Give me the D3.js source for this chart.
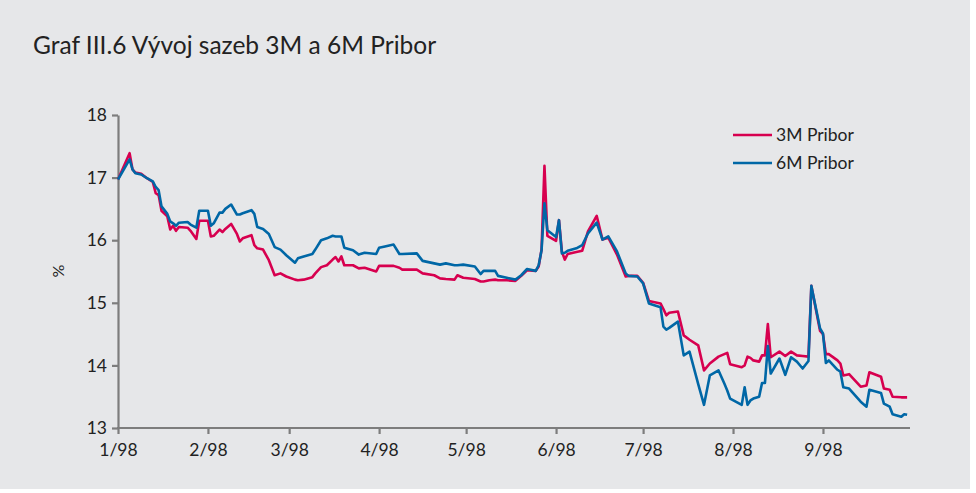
<!DOCTYPE html>
<html>
<head>
<meta charset="utf-8">
<script src="https://cdn.jsdelivr.net/npm/d3@7"></script>
<style>
  body { margin: 0; background: #fff; }
  svg text { font-family: Lato, "Open Sans", sans-serif; fill: #222; }
</style>
</head>
<body>
<svg id="canvas"></svg>
<script>
let dates = [
  '1998-01-01','1998-01-05','1998-01-06','1998-01-07','1998-01-09','1998-01-11','1998-01-13','1998-01-14','1998-01-15','1998-01-16',
  '1998-01-18','1998-01-19','1998-01-20','1998-01-21','1998-01-22','1998-01-25','1998-01-26','1998-01-28','1998-01-29','1998-02-01',
  '1998-02-02','1998-02-03','1998-02-05','1998-02-06','1998-02-07','1998-02-09','1998-02-11','1998-02-12','1998-02-13','1998-02-16',
  '1998-02-17','1998-02-18','1998-02-20','1998-02-22','1998-02-24','1998-02-26','1998-02-28','1998-03-03','1998-03-04','1998-03-06',
  '1998-03-09','1998-03-10','1998-03-12','1998-03-14','1998-03-16','1998-03-17','1998-03-18','1998-03-19','1998-03-20','1998-03-23',
  '1998-03-25','1998-03-27','1998-03-31','1998-04-01','1998-04-03','1998-04-06','1998-04-08','1998-04-09','1998-04-14','1998-04-16',
  '1998-04-20','1998-04-22','1998-04-24','1998-04-27','1998-04-28','1998-04-30','1998-05-04','1998-05-06','1998-05-07','1998-05-09',
  '1998-05-11','1998-05-12','1998-05-15','1998-05-18','1998-05-20','1998-05-22','1998-05-25','1998-05-26','1998-05-27','1998-05-28',
  '1998-05-29','1998-06-01','1998-06-02','1998-06-03','1998-06-04','1998-06-05','1998-06-08','1998-06-10','1998-06-12','1998-06-15',
  '1998-06-17','1998-06-19','1998-06-22','1998-06-25','1998-06-26','1998-06-29','1998-07-01','1998-07-03','1998-07-07','1998-07-08',
  '1998-07-09','1998-07-10','1998-07-13','1998-07-15','1998-07-17','1998-07-20','1998-07-22','1998-07-24','1998-07-27','1998-07-29',
  '1998-07-30','1998-07-31','1998-08-04','1998-08-05','1998-08-06','1998-08-07','1998-08-08','1998-08-10','1998-08-11','1998-08-12',
  '1998-08-13','1998-08-14','1998-08-17','1998-08-19','1998-08-21','1998-08-23','1998-08-25','1998-08-27','1998-08-28','1998-08-31',
  '1998-09-01','1998-09-02','1998-09-03','1998-09-06','1998-09-07','1998-09-08','1998-09-10','1998-09-14','1998-09-16','1998-09-17',
  '1998-09-21','1998-09-22','1998-09-24','1998-09-25','1998-09-28','1998-09-29','1998-09-30'
]

let pribor3M = [
  16.97,17.39,17.13,17.08,17.06,16.99,16.93,16.75,16.72,16.47,
  16.38,16.17,16.23,16.15,16.21,16.20,16.15,16.02,16.31,16.31,
  16.06,16.07,16.17,16.13,16.18,16.26,16.10,15.98,16.03,16.08,
  15.92,15.87,15.85,15.68,15.44,15.47,15.42,15.37,15.36,15.37,
  15.41,15.47,15.57,15.60,15.69,15.73,15.66,15.74,15.60,15.60,
  15.55,15.56,15.50,15.59,15.59,15.59,15.56,15.53,15.53,15.47,
  15.44,15.39,15.38,15.37,15.44,15.40,15.38,15.34,15.34,15.36,
  15.37,15.36,15.36,15.35,15.43,15.52,15.51,15.58,15.85,17.19,
  16.07,15.99,16.32,15.82,15.69,15.78,15.81,15.83,16.14,16.39,
  16.01,16.04,15.77,15.42,15.43,15.43,15.32,15.03,14.99,14.90,
  14.80,14.84,14.86,14.48,14.41,14.32,13.92,14.03,14.14,14.18,
  14.20,14.02,13.97,14.00,14.14,14.12,14.08,14.06,14.16,14.16,
  14.66,14.13,14.22,14.15,14.22,14.16,14.15,14.14,15.27,14.55,
  14.50,14.18,14.18,14.08,14.03,13.84,13.86,13.66,13.68,13.89,
  13.82,13.63,13.61,13.50,13.49,13.49,13.49
]

let pribor6M = [
  16.97,17.29,17.13,17.07,17.05,16.99,16.94,16.85,16.80,16.54,
  16.42,16.30,16.27,16.23,16.28,16.29,16.25,16.20,16.47,16.47,
  16.23,16.27,16.44,16.44,16.50,16.57,16.41,16.41,16.43,16.48,
  16.42,16.21,16.18,16.10,15.89,15.85,15.76,15.64,15.71,15.74,
  15.78,15.85,16.00,16.03,16.07,16.06,16.06,16.06,15.88,15.84,
  15.77,15.80,15.78,15.88,15.90,15.93,15.78,15.78,15.79,15.67,
  15.63,15.61,15.63,15.60,15.60,15.61,15.58,15.46,15.51,15.51,
  15.51,15.43,15.40,15.37,15.44,15.54,15.51,15.60,15.84,16.59,
  16.16,16.05,16.32,15.79,15.80,15.83,15.87,15.92,16.11,16.28,
  16.01,16.06,15.82,15.47,15.43,15.42,15.31,14.99,14.93,14.62,
  14.57,14.60,14.70,14.16,14.22,13.70,13.37,13.84,13.92,13.71,
  13.60,13.47,13.37,13.65,13.37,13.44,13.47,13.50,13.72,13.72,
  14.31,13.87,14.11,13.85,14.13,14.06,13.95,14.07,15.27,14.59,
  14.51,14.04,14.08,13.93,13.90,13.65,13.63,13.42,13.34,13.61,
  13.56,13.39,13.34,13.22,13.18,13.22,13.21
]

let seriesNames = ['3M Pribor', '6M Pribor']
let seriesColors = ['#d7004f', '#0067a6']
let yTicks = [13, 14, 15, 16, 17, 18]
let xTickLabels = ['1/98','2/98','3/98','4/98','5/98','6/98','7/98','8/98','9/98']
let title = 'Graf III.6 Vývoj sazeb 3M a 6M Pribor'

let width = 976
let height = 493
let plotLeft = 118
let plotRight = 910
let plotTop = 115
let plotBottom = 428

let parse = d3.timeParse('%Y-%m-%d')
let xDates = dates.map(parse)

let svg = d3.select('#canvas')
svg.attr('width', width)
svg.attr('height', height)

svg.append('rect')
    .attr('width', 970)
    .attr('height', 489)
    .attr('fill', '#e6e7e9')

svg.append('text')
    .attr('x', 33)
    .attr('y', 54)
    .style('font-size', '24.5px')
    .text(title)

let xScale = d3.scaleTime()
                .domain([new Date(1998, 0, 1), new Date(1998, 9, 1)])
                .range([plotLeft, plotRight])

let yScale = d3.scaleLinear()
                .domain([13, 18])
                .range([plotBottom, plotTop])

let monthTicks = xTickLabels.map((d, i) => new Date(1998, i, 1))

let xAxis = d3.axisBottom(xScale)
                .tickValues(monthTicks)
                .tickFormat((d, i) => xTickLabels[i])
                .tickSizeInner(6)
                .tickSizeOuter(0)
                .tickPadding(10)

let yAxis = d3.axisLeft(yScale)
                .tickValues(yTicks)
                .tickFormat(d3.format('d'))
                .tickSizeInner(6)
                .tickSizeOuter(0)
                .tickPadding(5)

let gx = svg.append('g')
        .attr('transform', 'translate(0, ' + plotBottom + ')')
        .call(xAxis)
gx.select('.domain').attr('d', 'M' + (plotLeft - 1) + ',0H' + plotRight)

let gy = svg.append('g')
        .attr('transform', 'translate(' + plotLeft + ', 0)')
        .call(yAxis)

svg.selectAll('.domain, .tick line')
    .attr('stroke', '#7d7d7d')
    .attr('stroke-width', 2.2)
svg.selectAll('.tick text')
    .style('font-size', '17.5px')
    .style('font-family', 'Lato, "Open Sans", sans-serif')
    .attr('fill', '#222')

svg.append('text')
    .attr('transform', 'translate(64, 271) rotate(-90)')
    .attr('text-anchor', 'middle')
    .style('font-size', '16px')
    .text('%')

let line = d3.line()
    .x((d, i) => xScale(xDates[i]))
    .y((d) => yScale(d))

let allSeries = [pribor3M, pribor6M]
allSeries.forEach((s, k) => {
    svg.append('path')
        .datum(s)
        .attr('d', line)
        .attr('fill', 'none')
        .attr('stroke', seriesColors[k])
        .attr('stroke-width', 2.6)
        .attr('stroke-linejoin', 'round')
})

let legend = svg.append('g')
seriesNames.forEach((name, k) => {
    let y = 135 + k * 28
    legend.append('line')
        .attr('x1', 733).attr('x2', 772)
        .attr('y1', y).attr('y2', y)
        .attr('stroke', seriesColors[k])
        .attr('stroke-width', 2.6)
    legend.append('text')
        .attr('x', 776)
        .attr('y', y + 6)
        .style('font-size', '17.5px')
        .text(name)
})
</script>
</body>
</html>
